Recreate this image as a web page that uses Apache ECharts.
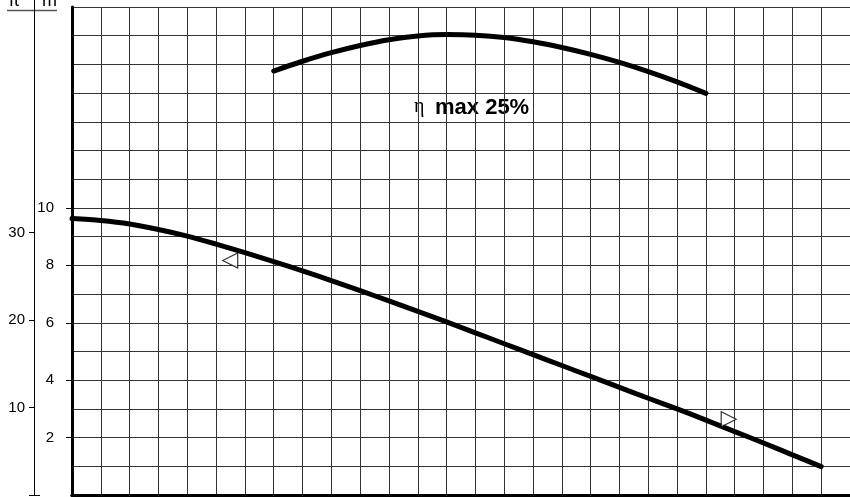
<!DOCTYPE html>
<html>
<head>
<meta charset="utf-8">
<script src="https://cdn.jsdelivr.net/npm/echarts@6/dist/echarts.min.js"></script>
<style>
html, body { margin: 0; padding: 0; background: #fff; }
#pump { width: 850px; height: 497px; }
</style>
</head>
<body>
<div id="pump"></div>
<script>
// Data (flow in grid columns, head in m)
var headFlow = [0, 1, 2, 3, 4, 5, 6, 7, 8, 9, 10, 11, 12, 13, 14, 15, 16, 17, 18, 19, 20, 21, 22, 23, 24, 25, 26];
var headM = [9.63, 9.56, 9.44, 9.25, 9.02, 8.74, 8.44, 8.13, 7.81, 7.47, 7.12, 6.76, 6.40, 6.03, 5.65, 5.27, 4.89, 4.51, 4.13, 3.75, 3.37, 3.00, 2.61, 2.21, 1.81, 1.40, 0.99];
var effFlow = [7, 8, 9, 10, 11, 12, 13, 14, 15, 16, 17, 18, 19, 20, 21, 22];
var effCurve = [14.77, 15.11, 15.41, 15.66, 15.86, 15.99, 16.04, 16.02, 15.94, 15.79, 15.59, 15.35, 15.07, 14.75, 14.39, 13.99];
var arrowFlow = [5.49, 22.79];
var arrowHead = [8.17, 2.64];
var arrowRotate = [90, -90];
var mTicks = [2, 4, 6, 8, 10];
var ftTicks = [10, 20, 30];

var flowMax = 27;
var mMax = 17;
var ftMax = mMax / 0.3048;

var EchartsPumpCurve = function() {

    var _pumpCurve = function() {
        if (typeof echarts == 'undefined') {
            console.warn('Warning - echarts.min.js is not loaded.');
            return;
        }

        var el = document.getElementById('pump');
        var chart = echarts.init(el);

        var pair = function(xs, ys) {
            return xs.map(function(x, i) { return [x, ys[i]]; });
        };

        var arrows = arrowFlow.map(function(x, i) {
            return { value: [x, arrowHead[i]], symbolRotate: arrowRotate[i] };
        });

        chart.setOption({
            animation: false,
            backgroundColor: '#fff',
            textStyle: {
                fontFamily: 'Liberation Sans, Arial, sans-serif'
            },

            grid: {
                left: 72,
                top: 7,
                width: 779,
                height: 488,
                containLabel: false
            },

            xAxis: [{
                type: 'value',
                position: 'bottom',
                min: 0,
                max: flowMax,
                interval: 1,
                axisLine: { lineStyle: { color: '#000', width: 3 } },
                axisTick: { show: false },
                axisLabel: { show: false },
                splitLine: { lineStyle: { color: '#333', width: 1 } }
            }, {
                type: 'value',
                position: 'top',
                min: 0,
                max: flowMax,
                interval: 1,
                axisLine: { show: true, lineStyle: { color: '#000', width: 3 } },
                axisTick: { show: false },
                axisLabel: { show: false },
                splitLine: { show: false }
            }],

            yAxis: [{
                // grid rows
                type: 'value',
                position: 'left',
                min: 0,
                max: mMax,
                interval: 1,
                axisLine: { show: true, lineStyle: { color: '#000', width: 3 } },
                axisTick: { show: false },
                axisLabel: { show: false },
                splitLine: { lineStyle: { color: '#333', width: 1 } }
            }, {
                // m labels
                type: 'value',
                position: 'left',
                min: 0,
                max: mMax,
                axisLine: { show: false },
                axisTick: {
                    show: true,
                    length: 6,
                    customValues: mTicks,
                    lineStyle: { color: '#000', width: 1 }
                },
                axisLabel: {
                    customValues: mTicks,
                    margin: 18,
                    color: '#000',
                    fontSize: 15
                },
                splitLine: { show: false }
            }, {
                // ft scale
                type: 'value',
                position: 'left',
                offset: 38,
                min: 0,
                max: ftMax,
                axisLine: { show: true, lineStyle: { color: '#000', width: 1 } },
                axisTick: {
                    show: true,
                    length: 5,
                    customValues: ftTicks,
                    lineStyle: { color: '#000', width: 1 }
                },
                axisLabel: {
                    customValues: ftTicks,
                    margin: 9,
                    color: '#000',
                    fontSize: 15
                },
                splitLine: { show: false }
            }],

            graphic: [
                { type: 'line', shape: { x1: 34.5, y1: 0, x2: 34.5, y2: 8 }, style: { stroke: '#000', lineWidth: 1 } },
                { type: 'line', shape: { x1: 29, y1: 495.5, x2: 40, y2: 495.5 }, style: { stroke: '#000', lineWidth: 1 } },
                { type: 'line', shape: { x1: 7, y1: 10.5, x2: 57, y2: 10.5 }, style: { stroke: '#555', lineWidth: 1.5 } },
                { type: 'text', left: 9, top: -8, style: { text: 'ft', font: '18px Liberation Sans', fill: '#000' } },
                { type: 'text', left: 42, top: -8, style: { text: 'm', font: '18px Liberation Sans', fill: '#000' } },
                { type: 'text', left: 414, top: 97, style: { text: 'η', font: '20px Liberation Serif', fill: '#000' } },
                { type: 'text', left: 435, top: 97, style: { text: 'max 25%', font: 'bold 22px Liberation Sans', fill: '#000' } }
            ],

            series: [{
                name: 'Head',
                type: 'line',
                smooth: 0.3,
                showSymbol: false,
                lineStyle: { color: '#000', width: 5, cap: 'round' },
                data: pair(headFlow, headM)
            }, {
                name: 'Efficiency',
                type: 'line',
                smooth: 0.3,
                showSymbol: false,
                lineStyle: { color: '#000', width: 5, cap: 'round' },
                data: pair(effFlow, effCurve)
            }, {
                name: 'Direction',
                type: 'scatter',
                symbol: 'triangle',
                symbolSize: [15, 15],
                itemStyle: { color: '#fff', borderColor: '#000', borderWidth: 1.2 },
                data: arrows,
                z: 5
            }]
        });
    };

    return {
        init: function() {
            _pumpCurve();
        }
    };
}();

document.addEventListener('DOMContentLoaded', function() {
    EchartsPumpCurve.init();
});
</script>
</body>
</html>
